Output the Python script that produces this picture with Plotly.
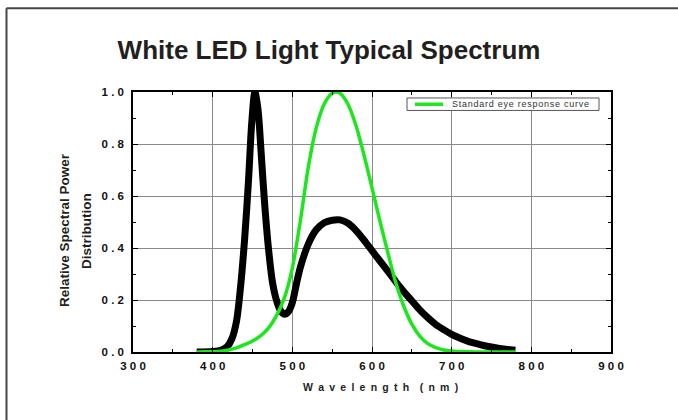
import plotly.graph_objects as go

# LED spectrum (black)
led_nm = [380, 400, 410, 418, 424, 430, 435, 440, 445, 449, 453, 457, 461, 465, 470, 475, 480, 485, 490,
          495, 500, 505, 510, 520, 530, 540, 550, 560, 570, 580, 590, 600, 610, 620, 630, 640, 650,
          660, 670, 680, 690, 700, 710, 720, 730, 740, 750, 760, 770, 780]
led_val = [0.0, 0.002, 0.006, 0.02, 0.05, 0.12, 0.25, 0.43, 0.66, 0.88, 1.0, 0.93, 0.76, 0.58, 0.4, 0.27,
           0.2, 0.16, 0.145, 0.155, 0.19, 0.26, 0.325, 0.415, 0.47, 0.497, 0.507, 0.508, 0.495, 0.467,
           0.43, 0.39, 0.35, 0.31, 0.27, 0.232, 0.197, 0.162, 0.132, 0.106, 0.086, 0.068, 0.054,
           0.042, 0.033, 0.025, 0.019, 0.014, 0.01, 0.007]

# Standard eye response curve (green)
eye_nm = [380, 390, 400, 410, 420, 430, 440, 450, 460, 470, 480, 490, 500, 510, 520, 530, 540, 550,
          555, 560, 570, 580, 590, 600, 610, 620, 630, 640, 650, 660, 670, 680, 690, 700, 720, 740,
          760, 780]
eye_val = [0.0, 0.0005, 0.001, 0.003, 0.008, 0.016, 0.028, 0.042, 0.062, 0.092, 0.139, 0.208, 0.323,
           0.503, 0.71, 0.862, 0.954, 0.995, 1.0, 0.995, 0.952, 0.87, 0.757, 0.631, 0.503, 0.381,
           0.265, 0.175, 0.107, 0.061, 0.032, 0.017, 0.008, 0.004, 0.001, 0.0003, 0.0001, 0.0]

x_ticks = [300, 400, 500, 600, 700, 800, 900]
y_ticks = [0.0, 0.2, 0.4, 0.6, 0.8, 1.0]

legend_label = "Standard eye response curve"
GREEN = "#1ee61e"
FONT = "Liberation Sans"


def spaced(s, sep=" "):
    return sep.join(list(s))


fig = go.Figure()
fig.add_trace(go.Scatter(x=led_nm, y=led_val, mode="lines",
                         line=dict(color="black", width=7, shape="spline", smoothing=0.8),
                         showlegend=False, name="LED"))
fig.add_trace(go.Scatter(x=eye_nm, y=eye_val, mode="lines",
                         line=dict(color=GREEN, width=3.5, shape="spline", smoothing=0.8),
                         showlegend=False, name=legend_label))

axis_common = dict(
    showline=True, linecolor="black", linewidth=1.5, mirror="ticks",
    ticks="inside", ticklen=5, tickwidth=1, tickcolor="black",
    showgrid=True, gridcolor="#8a8a8a", gridwidth=1, zeroline=False,
    tickfont=dict(family=FONT, size=11.5, color="#111111", weight="bold"),
    minor=dict(ticks="inside", ticklen=3, tickcolor="black", showgrid=False),
)

fig.update_xaxes(range=[300, 900], tickvals=x_ticks, ticktext=[spaced(str(v)) for v in x_ticks],
                 minor_dtick=50, ticklabelstandoff=2, **axis_common)
fig.update_yaxes(range=[0, 1.0], tickvals=y_ticks, ticktext=[spaced(f"{v:.1f}") for v in y_ticks],
                 minor_dtick=0.1, ticklabelstandoff=5, **axis_common)


# plot area in pixels: x 133..611, y 91.5..352.5
def px_x(p):
    return (p - 133) / 478


def px_y(p):
    return (352.5 - p) / 261


annotations = [
    dict(text="<b>Relative Spectral Power</b>", textangle=-90,
         xref="paper", yref="paper", x=px_x(65), y=px_y(230), xanchor="center", yanchor="middle",
         showarrow=False, font=dict(family=FONT, size=13.5, color="#231f20")),
    dict(text="<b>Distribution</b>", textangle=-90,
         xref="paper", yref="paper", x=px_x(87), y=px_y(231), xanchor="center", yanchor="middle",
         showarrow=False, font=dict(family=FONT, size=13.5, color="#231f20")),
    dict(text="<b>" + spaced("Wavelength", "\u2002") + "\u2002\u2002" + spaced("(nm)", "\u2002") + "</b>",
         xref="paper", yref="paper", x=px_x(380), y=px_y(388), xanchor="center", yanchor="middle",
         showarrow=False, font=dict(family=FONT, size=10.5, color="#231f20")),
    dict(text=spaced(legend_label, "\u200a"),
         xref="paper", yref="paper", x=px_x(450), y=px_y(103.5), xanchor="left", yanchor="middle",
         showarrow=False, font=dict(family=FONT, size=9, color="#333333")),
]

shapes = [
    # outer frame (top and left edges)
    dict(type="line", xref="paper", yref="paper", x0=px_x(6.5), x1=px_x(700), y0=px_y(7.5), y1=px_y(7.5),
         line=dict(color="#4a4545", width=2)),
    dict(type="line", xref="paper", yref="paper", x0=px_x(6.5), x1=px_x(6.5), y0=px_y(7.5), y1=px_y(440),
         line=dict(color="#4a4545", width=2)),
    # legend box
    dict(type="rect", xref="paper", yref="paper", x0=px_x(407), x1=px_x(599), y0=px_y(110), y1=px_y(97.5),
         line=dict(color="#555555", width=1), fillcolor="white", layer="above"),
    dict(type="line", xref="paper", yref="paper", x0=px_x(415), x1=px_x(443), y0=px_y(103.8), y1=px_y(103.8),
         line=dict(color=GREEN, width=3.5), layer="above"),
]

fig.update_layout(
    width=678, height=420,
    margin=dict(l=133, r=67, t=91.5, b=67.5),
    paper_bgcolor="white", plot_bgcolor="white",
    title=dict(text="<b>White LED Light Typical Spectrum</b>", x=329 / 678, xanchor="center",
               y=1 - 50 / 420, yanchor="middle",
               font=dict(family=FONT, size=26, color="#231f20")),
    showlegend=False,
    annotations=annotations,
    shapes=shapes,
)

fig.write_html("out.html", config={"displayModeBar": False},
               post_script="document.body.style.margin='0';document.body.style.padding='0';")
